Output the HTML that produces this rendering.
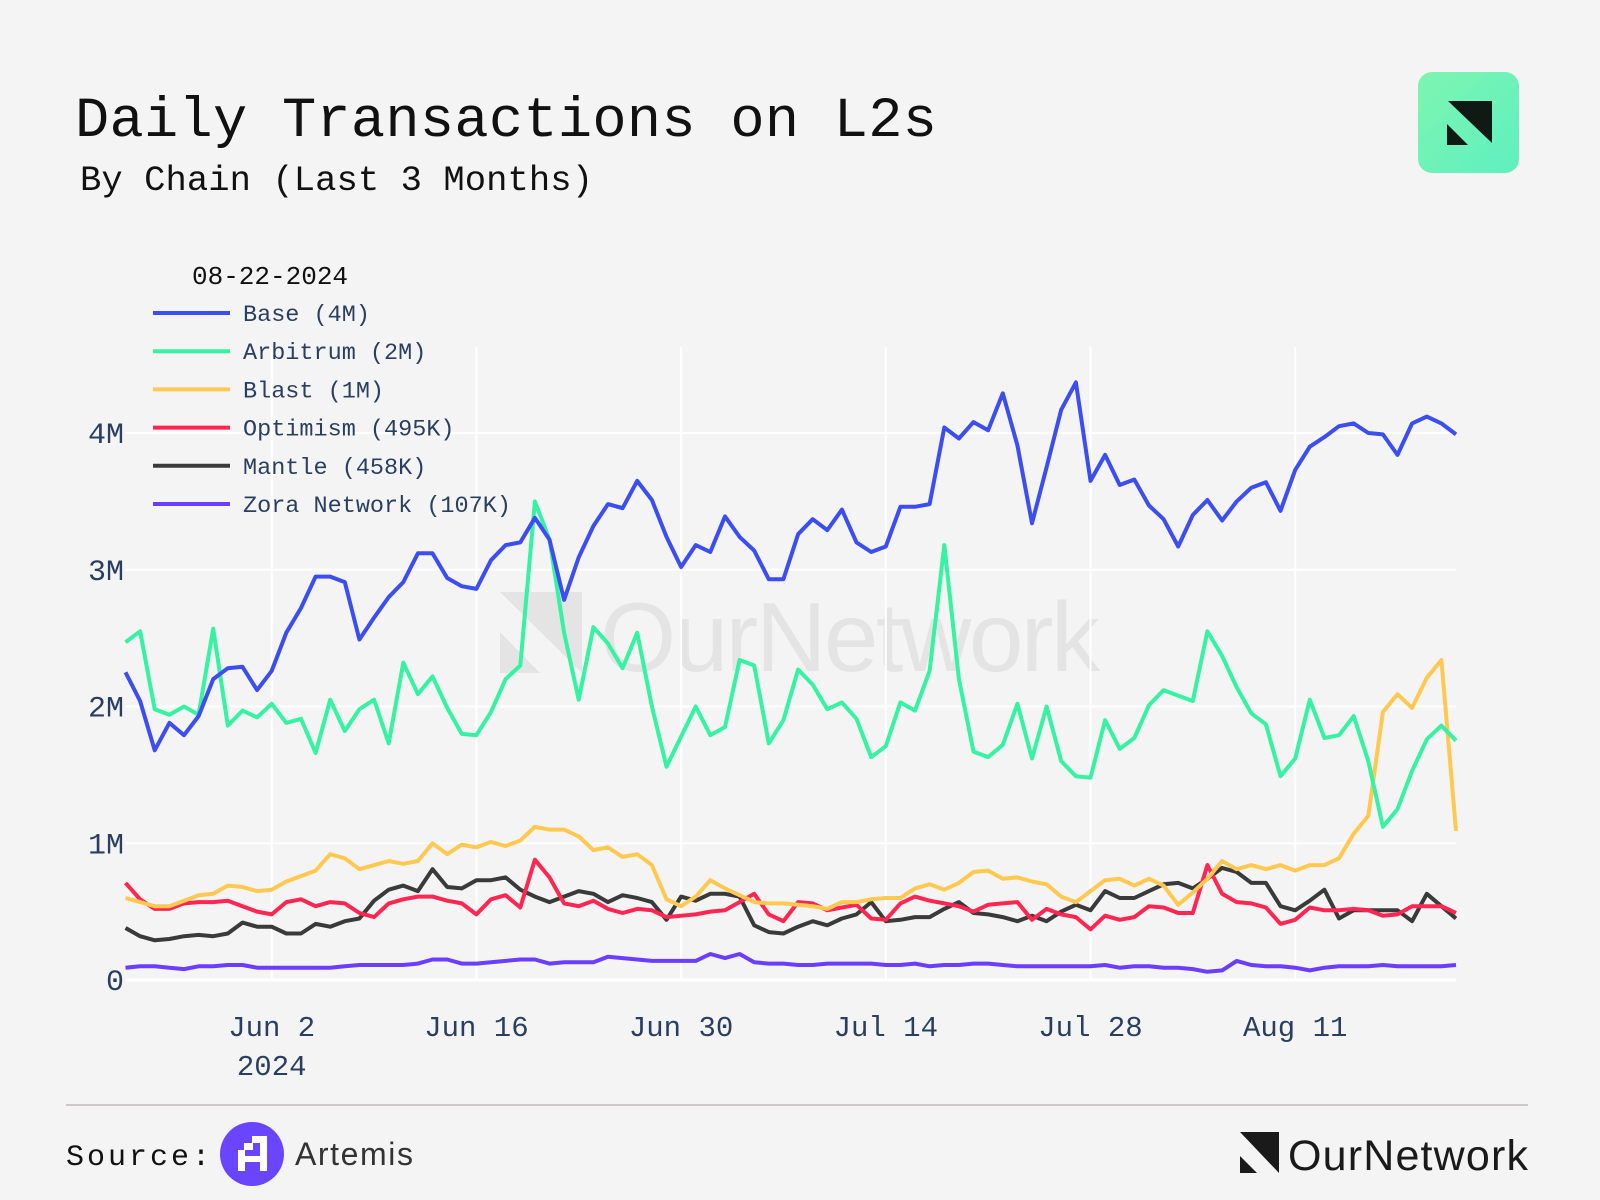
<!DOCTYPE html>
<html><head><meta charset="utf-8">
<style>
html,body{margin:0;padding:0;background:#f4f4f4;}
svg{display:block;}
</style></head>
<body>
<svg id="chart" width="1600" height="1200" viewBox="0 0 1600 1200" xmlns="http://www.w3.org/2000/svg">
<rect x="0" y="0" width="1600" height="1200" fill="#f4f4f4"/>
<text x="75" y="136" font-family="Liberation Mono, monospace" font-size="57" fill="#111" textLength="862">Daily Transactions on L2s</text>
<text x="80" y="190" font-family="Liberation Mono, monospace" font-size="35.5" fill="#111" textLength="513">By Chain (Last 3 Months)</text>
<defs>
<linearGradient id="lg" x1="0" y1="0" x2="1" y2="1"><stop offset="0" stop-color="#7ef5b0"/><stop offset="1" stop-color="#5ef0c0"/></linearGradient>
</defs>
<g>
<rect x="1418" y="72" width="101" height="101" rx="14" fill="url(#lg)"/>
<polygon points="1448,101 1492,101 1492,143" fill="#0f1a14"/>
<polygon points="1447,124 1447,145 1468,145" fill="#0f1a14"/>
</g>
<g>
<polygon points="500,592 582,592 582,673" fill="#e4e4e4"/>
<polygon points="500,632 500,673 540,673" fill="#e4e4e4"/>
<text x="600" y="671" font-family="Liberation Sans, sans-serif" font-size="98" fill="#e4e4e4" textLength="500">OurNetwork</text>
</g>
<g id="grid"></g>
<g id="yticks"></g>
<g id="xticks"></g>
<g id="series"></g>
<g id="legend"></g>
<line x1="66" y1="1105" x2="1528" y2="1105" stroke="#ccc8c8" stroke-width="2"/>
<text x="66" y="1165" font-family="Liberation Mono, monospace" font-size="30" letter-spacing="3" fill="#111">Source:</text>
<g>
<circle cx="252" cy="1154" r="32" fill="#6a45ff"/>
<rect x="238" y="1150" width="7" height="21" fill="#fff"/>
<rect x="260" y="1136" width="7" height="35" fill="#fff"/>
<rect x="252" y="1136" width="15" height="7" fill="#fff"/>
<rect x="244" y="1143" width="9" height="7" fill="#fff"/>
<rect x="238" y="1156" width="29" height="6" fill="#fff"/>
</g>
<text x="295" y="1165" font-family="Liberation Sans, sans-serif" font-size="32" fill="#333" textLength="118">Artemis</text>
<g>
<polygon points="1240,1132 1279,1132 1279,1173" fill="#1a1a1a"/>
<polygon points="1240,1156 1240,1173 1257,1173" fill="#1a1a1a"/>
<text x="1288" y="1170" font-family="Liberation Sans, sans-serif" font-size="43" fill="#1a1a1a" textLength="240">OurNetwork</text>
</g>
</svg>
<script>
const categoriesStart = [2024, 4, 23];
const dayCount = 92;
const yTickValues = [0, 1, 2, 3, 4];
const yTickLabels = ["0", "1M", "2M", "3M", "4M"];
const xTickDays = [10, 24, 38, 52, 66, 80];
const xTickLabels = ["Jun 2", "Jun 16", "Jun 30", "Jul 14", "Jul 28", "Aug 11"];
const seriesNames = ["Base (4M)", "Arbitrum (2M)", "Blast (1M)", "Optimism (495K)", "Mantle (458K)", "Zora Network (107K)"];
const base = [2.25,2.04,1.68,1.88,1.79,1.93,2.2,2.28,2.29,2.12,2.26,2.54,2.72,2.95,2.95,2.91,2.49,2.65,2.8,2.91,3.12,3.12,2.94,2.88,2.86,3.07,3.18,3.2,3.38,3.22,2.78,3.09,
3.32,3.48,3.45,3.65,3.51,3.24,3.02,3.18,3.13,3.39,3.24,3.14,2.93,2.93,3.26,3.37,3.29,3.44,3.2,3.13,3.17,3.46,3.46,3.48,
4.04,3.96,4.08,4.02,
4.29,3.91,3.34,3.75,4.17,4.37,3.65,3.84,3.62,3.66,3.47,3.37,3.17,3.4,3.51,3.36,3.5,3.6,3.64,3.43,3.73,3.9,3.97,4.05,4.07,4.0,3.99,3.84,4.07,4.12,4.07,3.99];
const arbitrum = [2.47,2.55,1.98,1.94,2.0,1.94,2.57,1.86,1.97,1.92,2.02,1.88,1.91,1.66,2.05,1.82,1.98,2.05,1.73,2.32,2.09,2.22,1.99,1.8,1.79,1.96,2.2,2.3,3.5,3.22,2.54,2.05,
2.58,2.46,2.28,2.54,2.0,1.56,1.78,2.0,1.79,1.85,2.34,2.3,1.73,1.9,2.27,2.16,1.98,2.03,1.91,1.63,1.71,2.03,1.97,2.26,3.18,2.2,1.67,1.63,1.72,2.02,
1.62,2.0,1.6,1.49,1.48,1.9,1.69,1.77,2.01,2.12,2.08,2.04,2.55,2.37,2.14,1.95,1.87,1.49,1.62,2.05,1.77,1.79,1.93,1.6,1.12,1.25,1.53,1.76,1.86,1.75];
const blast = [0.6,0.57,0.54,0.54,0.58,0.62,0.63,0.69,0.68,0.65,0.66,0.72,0.76,0.8,0.92,0.89,0.81,0.84,0.87,0.85,0.87,1.0,0.92,0.99,0.97,1.01,0.98,1.02,1.12,1.1,1.1,1.05,
0.95,0.97,0.9,0.92,0.84,0.59,0.54,0.61,0.73,0.67,0.62,0.57,0.56,0.56,0.55,0.54,0.52,0.57,0.57,0.59,0.6,0.6,0.67,0.7,0.66,0.71,0.79,0.8,0.74,0.75,
0.72,0.7,0.61,0.57,0.65,0.73,0.74,0.69,0.74,0.69,0.55,0.64,0.74,0.87,0.81,0.84,0.81,0.84,0.8,0.84,0.84,0.89,1.07,1.2,1.96,2.09,1.99,2.21,2.34,1.09];
const optimism = [0.71,0.59,0.52,0.52,0.56,0.57,0.57,0.58,0.54,0.5,0.48,0.57,0.59,0.54,0.57,0.56,0.49,0.46,0.56,0.59,0.61,0.61,0.58,0.56,0.48,0.59,0.62,0.53,0.88,0.75,0.56,0.54,
0.58,0.52,0.49,0.52,0.51,0.46,0.47,0.48,0.5,0.51,0.57,0.63,0.48,0.43,0.57,0.56,0.51,0.53,0.55,0.45,0.44,0.56,0.61,0.58,0.56,0.54,0.5,0.55,0.56,0.57,
0.44,0.52,0.48,0.46,0.37,0.47,0.44,0.46,0.54,0.53,0.49,0.49,0.84,0.63,0.57,0.56,0.53,0.41,0.44,0.53,0.51,0.51,0.52,0.51,0.47,0.48,0.54,0.54,0.54,0.49];
const mantle = [0.38,0.32,0.29,0.3,0.32,0.33,0.32,0.34,0.42,0.39,0.39,0.34,0.34,0.41,0.39,0.43,0.45,0.58,0.66,0.69,0.65,0.81,0.68,0.67,0.73,0.73,0.75,0.66,0.61,0.57,0.61,0.65,
0.63,0.57,0.62,0.6,0.57,0.44,0.61,0.58,0.63,0.63,0.61,0.4,0.35,0.34,0.39,0.43,0.4,0.45,0.48,0.57,0.43,0.44,0.46,0.46,0.52,0.57,0.49,0.48,0.46,0.43,
0.47,0.43,0.5,0.55,0.51,0.65,0.6,0.6,0.65,0.7,0.71,0.67,0.74,0.82,0.79,0.71,0.71,0.54,0.51,0.58,0.66,0.45,0.51,0.51,0.51,0.51,0.43,0.63,0.54,0.45];
const zora = [.09,.1,.1,.09,.08,.1,.1,.11,.11,.09,.09,.09,.09,.09,.09,.1,.11,.11,.11,.11,.12,.15,.15,.12,.12,.13,.14,.15,.15,.12,.13,.13,
.13,.17,.16,.15,.14,.14,.14,.14,.19,.16,.19,.13,.12,.12,.11,.11,.12,.12,.12,.12,.11,.11,.12,.1,.11,.11,.12,.12,.11,.1,
.1,.1,.1,.1,.1,.11,.09,.1,.1,.09,.09,.08,.06,.07,.14,.11,.1,.1,.09,.07,.09,.1,.1,.1,.11,.1,.1,.1,.1,.11];

const NS = "http://www.w3.org/2000/svg";
const PL = 125.5, PR = 1456, PT = 347, PB = 980;
const xDay = d => PL + (PR - PL) * d / (dayCount - 1);
const yVal = v => PB - v * 136.75;
function mk(tag, attrs, parent) {
  const e = document.createElementNS(NS, tag);
  for (const k in attrs) e.setAttribute(k, attrs[k]);
  parent.appendChild(e);
  return e;
}
const grid = document.getElementById('grid');
const yt = document.getElementById('yticks');
const xt = document.getElementById('xticks');
yTickValues.forEach((v, i) => {
  const l = mk('line', {x1: PL, x2: PR, y1: yVal(v), y2: yVal(v), stroke: '#ffffff', 'stroke-width': v === 0 ? 3 : 2}, grid);
  
  
  const t = mk('text', {x: 124, y: yVal(v) + 10, 'text-anchor': 'end', 'font-family': 'Liberation Mono, monospace', 'font-size': 30, fill: '#2a3f5f'}, yt);
  t.textContent = yTickLabels[i];
  
  
});
xTickDays.forEach((d, i) => {
  const l = mk('line', {x1: xDay(d), x2: xDay(d), y1: PT, y2: PB, stroke: '#ffffff', 'stroke-width': 2}, grid);
  
  
  const t = mk('text', {x: xDay(d), y: 1036, 'text-anchor': 'middle', 'font-family': 'Liberation Mono, monospace', 'font-size': 29, fill: '#2a3f5f'}, xt);
  t.textContent = xTickLabels[i];
  
  
});
const yr = mk('text', {x: xDay(xTickDays[0]), y: 1075, 'text-anchor': 'middle', 'font-family': 'Liberation Mono, monospace', 'font-size': 29, fill: '#2a3f5f'}, xt);
yr.textContent = String(categoriesStart[0]);



const seriesData = [base, arbitrum, blast, optimism, mantle, zora];
const colors = ['#3c4df2', '#35f3a2', '#ffc850', '#ff2652', '#3a3a3a', '#6b3dff'];
const keys = ['base', 'arbitrum', 'blast', 'optimism', 'mantle', 'zora'];
const sg = document.getElementById('series');
for (let s = seriesData.length - 1; s >= 0; s--) {
  const arr = seriesData[s];
  const pts = arr.map((v, i) => xDay(i).toFixed(1) + ',' + yVal(v).toFixed(1)).join(' ');
  const p = mk('polyline', {points: pts, fill: 'none', stroke: colors[s], 'stroke-width': 4, 'stroke-linejoin': 'round'}, sg);
  
  
}
const lg = document.getElementById('legend');
const lt = mk('text', {x: 192, y: 284, 'font-family': 'Liberation Mono, monospace', 'font-size': 26, fill: '#111'}, lg);
lt.textContent = '08-22-2024';


seriesNames.forEach((n, i) => {
  const y = 313 + i * 38.2;
  const g = mk('g', {}, lg);
  
  
  mk('line', {x1: 153, x2: 230, y1: y, y2: y, stroke: colors[i], 'stroke-width': 4}, g);
  const t = mk('text', {x: 243, y: y + 8, 'font-family': 'Liberation Mono, monospace', 'font-size': 23.5, fill: '#2a3f5f'}, g);
  t.textContent = n;
});
</script>
</body></html>
